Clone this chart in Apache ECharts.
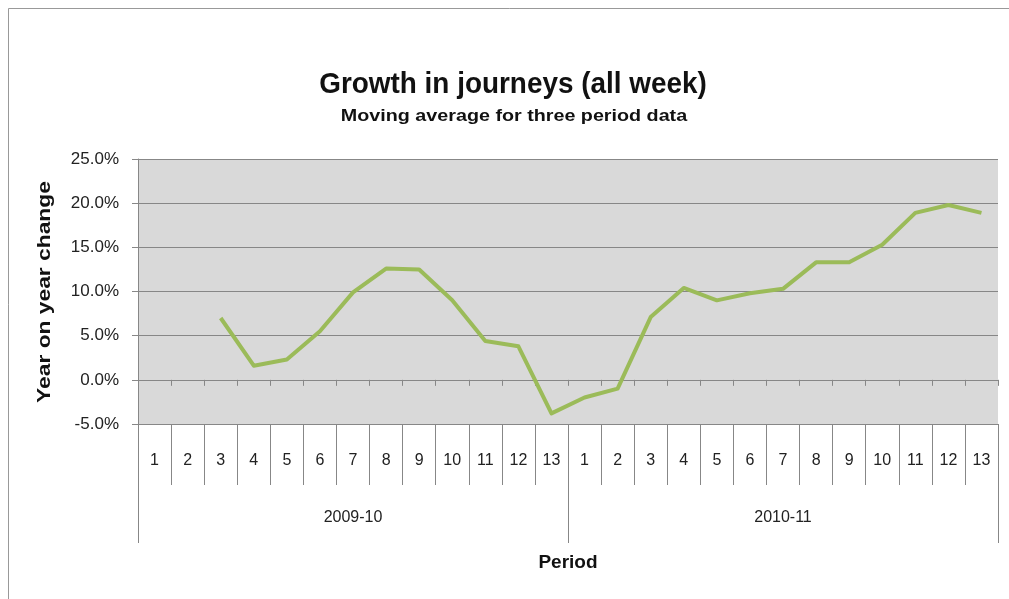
<!DOCTYPE html>
<html>
<head>
<meta charset="utf-8">
<script src="https://cdn.jsdelivr.net/npm/echarts@6/dist/echarts.min.js"></script>
<style>
  html, body { margin: 0; padding: 0; background: #fff; }
  #chart { width: 1009px; height: 599px; }
</style>
</head>
<body>
<div id="chart"></div>
<script>
// periods within each year
const periods = ['1', '2', '3', '4', '5', '6', '7', '8', '9', '10', '11', '12', '13',
                 '1', '2', '3', '4', '5', '6', '7', '8', '9', '10', '11', '12', '13'];
const years = ['2009-10', '2010-11'];
// year on year change (%) - moving average for three periods
const growth = [null, null, 7.0, 1.6, 2.3, 5.5, 9.9, 12.6, 12.5, 9.0, 4.4, 3.8, -3.8,
                -2.0, -1.0, 7.1, 10.4, 9.0, 9.8, 10.3, 13.3, 13.3, 15.3, 18.9, 19.8, 18.9];
const yTicks = { min: -5, max: 25, interval: 5 };

const font = "'Liberation Sans', Arial, sans-serif";
const lineGray = '#878787';

const chart = echarts.init(document.getElementById('chart'));

chart.setOption({
  backgroundColor: '#fff',
  animation: false,
  graphic: [
    {
      type: 'rect',
      shape: { x: 8.5, y: 8.5, width: 1010, height: 600 },
      style: { fill: 'none', stroke: '#999', lineWidth: 1 },
      silent: true
    },
    {
      // title, squeezed a little like the original narrow face
      type: 'text',
      x: 513, y: 85,
      scaleX: 0.93,
      style: {
        text: 'Growth in journeys (all week)',
        font: "bold 30px 'Liberation Sans', Arial, sans-serif",
        fill: '#111', textAlign: 'center', textVerticalAlign: 'middle'
      }
    },
    {
      type: 'text',
      x: 514, y: 116,
      scaleX: 1.16,
      style: {
        text: 'Moving average for three period data',
        font: "bold 17px 'Liberation Sans', Arial, sans-serif",
        fill: '#111', textAlign: 'center', textVerticalAlign: 'middle'
      }
    },
    {
      // y axis title
      type: 'text',
      x: 45, y: 292,
      rotation: Math.PI / 2,
      scaleX: 1.2,
      style: {
        text: 'Year on year change',
        font: "bold 19px 'Liberation Sans', Arial, sans-serif",
        fill: '#111', textAlign: 'center', textVerticalAlign: 'middle'
      }
    }
  ],
  grid: {
    left: 138,
    right: 11,
    top: 159,
    bottom: 175,
    show: true,
    backgroundColor: '#d9d9d9',
    borderWidth: 0
  },
  yAxis: {
    type: 'value',
    min: yTicks.min,
    max: yTicks.max,
    interval: yTicks.interval,
    axisLine: { show: true, lineStyle: { color: lineGray } },
    axisTick: { show: true, length: 6, lineStyle: { color: lineGray } },
    axisLabel: {
      fontFamily: font, fontSize: 17, color: '#222', margin: 19,
      formatter: v => v.toFixed(1) + '%'
    },
    splitLine: { lineStyle: { color: lineGray, width: 1 } }
  },
  xAxis: [
    {
      // axis line through zero with short ticks
      type: 'category',
      data: periods,
      boundaryGap: true,
      axisLine: { onZero: true, lineStyle: { color: lineGray } },
      axisTick: { show: true, interval: 0, length: 6, lineStyle: { color: lineGray } },
      axisLabel: { show: false }
    },
    {
      // period labels along the bottom
      type: 'category',
      data: periods,
      position: 'bottom',
      boundaryGap: true,
      axisLine: { onZero: false, lineStyle: { color: lineGray } },
      axisTick: { show: true, interval: 0, length: 61, lineStyle: { color: lineGray } },
      axisLabel: { interval: 0, fontFamily: font, fontSize: 16, color: '#222', margin: 29 }
    },
    {
      // year grouping
      type: 'category',
      data: years,
      position: 'bottom',
      boundaryGap: true,
      name: 'Period',
      nameLocation: 'middle',
      nameGap: 129,
      nameTextStyle: { fontFamily: font, fontSize: 19, fontWeight: 'bold', color: '#111' },
      axisLine: { onZero: false, lineStyle: { color: lineGray } },
      axisTick: { show: true, interval: 0, length: 119, lineStyle: { color: lineGray } },
      axisLabel: { interval: 0, fontFamily: font, fontSize: 16, color: '#222', margin: 86 }
    }
  ],
  series: [
    {
      type: 'line',
      xAxisIndex: 0,
      data: growth,
      showSymbol: false,
      connectNulls: false,
      lineStyle: { color: '#9bbb59', width: 4, join: 'round' },
      itemStyle: { color: '#9bbb59' }
    }
  ]
});
</script>
</body>
</html>
